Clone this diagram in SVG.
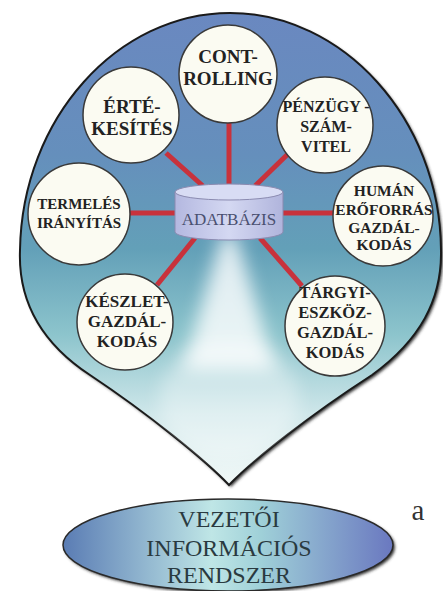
<svg xmlns="http://www.w3.org/2000/svg" width="443" height="591" viewBox="0 0 443 591">
<style>
.node circle{fill:#fbfbf2;stroke:#3a3a3a;stroke-width:1.5}
.nt{font-weight:bold;fill:#222;text-anchor:middle}
.link{stroke:#c8323c;stroke-width:5;stroke-linecap:butt}
.big{fill:#2a3a40;text-anchor:middle;font-size:24px}
</style>
<defs>
<linearGradient id="bg" x1="0" y1="13" x2="0" y2="485" gradientUnits="userSpaceOnUse">
<stop offset="0" stop-color="#6a88c0"/>
<stop offset="0.3" stop-color="#658fbc"/>
<stop offset="0.5" stop-color="#63a0b8"/>
<stop offset="0.68" stop-color="#8cc4cc"/>
<stop offset="0.85" stop-color="#cfe7ea"/>
<stop offset="1" stop-color="#f2f9f8"/>
</linearGradient>
<linearGradient id="cyl" x1="0" y1="0" x2="1" y2="0">
<stop offset="0" stop-color="#b4b8e0"/>
<stop offset="0.5" stop-color="#d4d8f2"/>
<stop offset="1" stop-color="#b0b4dc"/>
</linearGradient>
<linearGradient id="ell" x1="0" y1="0" x2="1" y2="0">
<stop offset="0" stop-color="#5a7cb4"/>
<stop offset="0.45" stop-color="#bfe6e6"/>
<stop offset="0.6" stop-color="#9fd0d8"/>
<stop offset="1" stop-color="#6a78c0"/>
</linearGradient>
<filter id="blur" x="-1" y="-1" width="3" height="3"><feGaussianBlur stdDeviation="9"/></filter>
<filter id="sh" x="-0.1" y="-0.1" width="1.2" height="1.2"><feGaussianBlur stdDeviation="1.5"/></filter>
<clipPath id="drop"><path d="M229 485 C205 460 150 415 90 375 C40 342 18 300 20 250 C22 118 118 13 230 13 C342 13 440 118 441 250 C442 300 420 340 372 375 C310 415 253 460 229 485 Z"/></clipPath>
</defs>
<g id="drop-shape">
<path d="M231 487 C207 462 152 417 92 377 C42 344 20 302 22 252 C24 120 120 15 232 15 C344 15 442 120 443 252 C444 302 422 342 374 377 C312 417 255 462 231 487 Z" fill="#333" filter="url(#sh)"/>
<path d="M229 485 C205 460 150 415 90 375 C40 342 18 300 20 250 C22 118 118 13 230 13 C342 13 440 118 441 250 C442 300 420 340 372 375 C310 415 253 460 229 485 Z" fill="url(#bg)" stroke="#1a1a1a" stroke-width="2"/>
<g clip-path="url(#drop)">
<path d="M222 235 L236 235 L275 370 L183 370 Z" fill="#ffffff" opacity="0.8" filter="url(#blur)"/>
<ellipse cx="229" cy="400" rx="70" ry="60" fill="#ffffff" opacity="0.35" filter="url(#blur)"/>
</g>
</g>
<g id="connectors">
<line class="link" x1="229" y1="122" x2="229" y2="186"/>
<line class="link" x1="166" y1="153" x2="203" y2="186"/>
<line class="link" x1="290" y1="152" x2="255" y2="186"/>
<line class="link" x1="129" y1="213" x2="175" y2="213"/>
<line class="link" x1="283" y1="213" x2="333" y2="213"/>
<line class="link" x1="195" y1="238" x2="157" y2="285"/>
<line class="link" x1="260" y1="238" x2="302" y2="286"/>
</g>
<g id="adatbazis">
<path d="M175 192 L175 232 A54 8 0 0 0 283 232 L283 192 Z" fill="url(#cyl)" stroke="#8a8ab0" stroke-width="1"/>
<ellipse cx="229" cy="192" rx="54" ry="8" fill="#d8dcf4" stroke="#8a8ab0" stroke-width="1"/>
<text x="229" y="225" font-family="'Liberation Serif', serif" font-size="17" fill="#4a5070" text-anchor="middle">ADATBÁZIS</text>
</g>
<g id="controlling" class="node">
<circle cx="228" cy="74" r="49"/>
<text class="nt" font-family="'Liberation Serif', serif" font-size="19"><tspan x="228" y="63">CONT-</tspan><tspan x="228" y="85">ROLLING</tspan></text>
</g>
<g id="ertekesites" class="node">
<circle cx="131" cy="115" r="48"/>
<text class="nt" font-family="'Liberation Serif', serif" font-size="19"><tspan x="132" y="113">ÉRTÉ-</tspan><tspan x="132" y="135">KESÍTÉS</tspan></text>
</g>
<g id="penzugy" class="node">
<circle cx="325" cy="125" r="48"/>
<text class="nt" font-family="'Liberation Serif', serif" font-size="16"><tspan x="326" y="112">PÉNZÜGY -</tspan><tspan x="326" y="132">SZÁM-</tspan><tspan x="326" y="152">VITEL</tspan></text>
</g>
<g id="termeles" class="node">
<circle cx="79" cy="214" r="51"/>
<text class="nt" font-family="'Liberation Serif', serif" font-size="15"><tspan x="79" y="209">TERMELÉS</tspan><tspan x="79" y="228">IRÁNYÍTÁS</tspan></text>
</g>
<g id="human" class="node">
<circle cx="383" cy="216" r="50"/>
<text class="nt" font-family="'Liberation Serif', serif" font-size="15.5"><tspan x="384" y="196">HUMÁN</tspan><tspan x="384" y="215">ERŐFORRÁS</tspan><tspan x="384" y="233">GAZDÁL-</tspan><tspan x="384" y="250">KODÁS</tspan></text>
</g>
<g id="keszlet" class="node">
<circle cx="125" cy="322" r="48"/>
<text class="nt" font-family="'Liberation Serif', serif" font-size="17"><tspan x="127" y="307">KÉSZLET-</tspan><tspan x="127" y="327">GAZDÁL-</tspan><tspan x="127" y="347">KODÁS</tspan></text>
</g>
<g id="targyi" class="node">
<circle cx="335" cy="326" r="50"/>
<text class="nt" font-family="'Liberation Serif', serif" font-size="16.5"><tspan x="335" y="298">TÁRGYI-</tspan><tspan x="335" y="318">ESZKÖZ-</tspan><tspan x="335" y="338">GAZDÁL-</tspan><tspan x="335" y="358">KODÁS</tspan></text>
</g>
<g id="vir">
<ellipse cx="230" cy="547" rx="165" ry="46" fill="#333" filter="url(#sh)"/>
<ellipse cx="228" cy="545" rx="165" ry="46" fill="url(#ell)" stroke="#2a2a2a" stroke-width="1.5"/>
<text class="big" font-family="'Liberation Serif', serif"><tspan x="229" y="527">VEZETŐI</tspan><tspan x="229" y="556">INFORMÁCIÓS</tspan><tspan x="229" y="583">RENDSZER</tspan></text>
</g>
<text x="418" y="520" font-family="'Liberation Serif', serif" font-size="29" fill="#333" text-anchor="middle">a</text>
</svg>
